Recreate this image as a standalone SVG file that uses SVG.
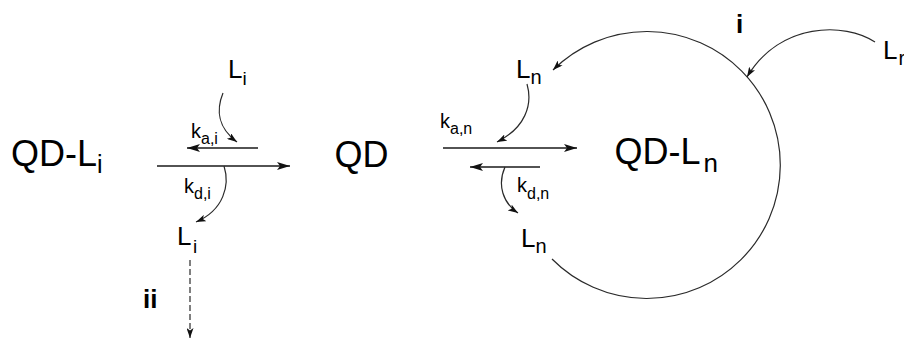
<svg xmlns="http://www.w3.org/2000/svg" width="904" height="340" viewBox="0 0 904 340">
<style>
text{font-family:"Liberation Sans",Arial,Helvetica,sans-serif;fill:#000}
.big{font-size:36px}
.lab{font-size:26px}
.k{font-size:20px}
.b{font-size:26px;font-weight:bold}
.ln{fill:none;stroke:#1a1a1a;stroke-width:1.4}
.cv{fill:none;stroke:#2a2a2a;stroke-width:1.2}
</style>
<defs>
<marker id="ah" viewBox="0 0 13 8" refX="13" refY="4" markerWidth="13" markerHeight="8" markerUnits="userSpaceOnUse" orient="auto">
<path d="M0,0 L13,4 L0,8 L3,4 z" fill="#111"/>
</marker>
<marker id="as" viewBox="0 0 10 7" refX="10" refY="3.5" markerWidth="10" markerHeight="7" markerUnits="userSpaceOnUse" orient="auto">
<path d="M0,0 L10,3.5 L0,7 L2.5,3.5 z" fill="#111"/>
</marker>
</defs>
<g id="node-QD-Li"><text class="big" x="11" y="166">QD-L<tspan font-size="25" dy="7">i</tspan></text></g>
<g id="node-QD"><text class="big" x="334.5" y="167">QD</text></g>
<g id="node-QD-Ln"><text class="big" x="614.5" y="164">QD-L<tspan font-size="26" dy="8" dx="3">n</tspan></text></g>
<g id="node-Li-top"><text class="lab" x="228" y="78">L<tspan font-size="19" dy="7">i</tspan></text></g>
<g id="node-Li-bottom"><text class="lab" x="177" y="245">L<tspan x="193" font-size="19" dy="8">i</tspan></text></g>
<g id="node-Ln-top"><text class="lab" x="516" y="78">L<tspan font-size="20" dy="6">n</tspan></text></g>
<g id="node-Ln-bottom"><text class="lab" x="521" y="247">L<tspan font-size="20" dy="6">n</tspan></text></g>
<g id="node-Lr"><text class="lab" x="883" y="59">L<tspan font-size="20" dy="6" dx="1">r</tspan></text></g>
<g id="labels">
<text class="k" x="191" y="138">k<tspan font-size="16" dy="6">a,i</tspan></text>
<text class="k" x="184" y="193">k<tspan font-size="16" dy="6">d,i</tspan></text>
<text class="k" x="440" y="128">k<tspan font-size="16" dy="6">a,n</tspan></text>
<text class="k" x="517" y="192">k<tspan font-size="16" dy="7">d,n</tspan></text>
<text class="b" x="736" y="33">i</text>
<text class="b" x="143" y="308">ii</text>
</g>
<g id="connectors">
<line class="ln" x1="157" y1="166" x2="290" y2="166" marker-end="url(#ah)"/>
<line class="ln" x1="258" y1="148" x2="187" y2="148" marker-end="url(#ah)"/>
<line class="ln" x1="443" y1="148" x2="577" y2="148" marker-end="url(#ah)"/>
<line class="ln" x1="540" y1="167" x2="470" y2="167" marker-end="url(#ah)"/>
<path class="cv" d="M223,93 C216,110 218,128 237,142" marker-end="url(#as)"/>
<path class="cv" d="M224,166 C230,185 224,210 196,222" marker-end="url(#as)"/>
<path class="cv" d="M527,84 C533,105 525,128 497,142" marker-end="url(#as)"/>
<path class="cv" d="M505,167 C497,185 503,203 518,213" marker-end="url(#as)"/>
<path class="cv" d="M875,42 C845,22 780,22 747,77" marker-end="url(#as)"/>
<path class="cv" d="M552,259 A133.5,133.5 0 1 0 553,70" marker-end="url(#as)"/>
<line class="cv" x1="190" y1="260" x2="190" y2="338" stroke-dasharray="6,3" marker-end="url(#as)"/>
</g>
</svg>
